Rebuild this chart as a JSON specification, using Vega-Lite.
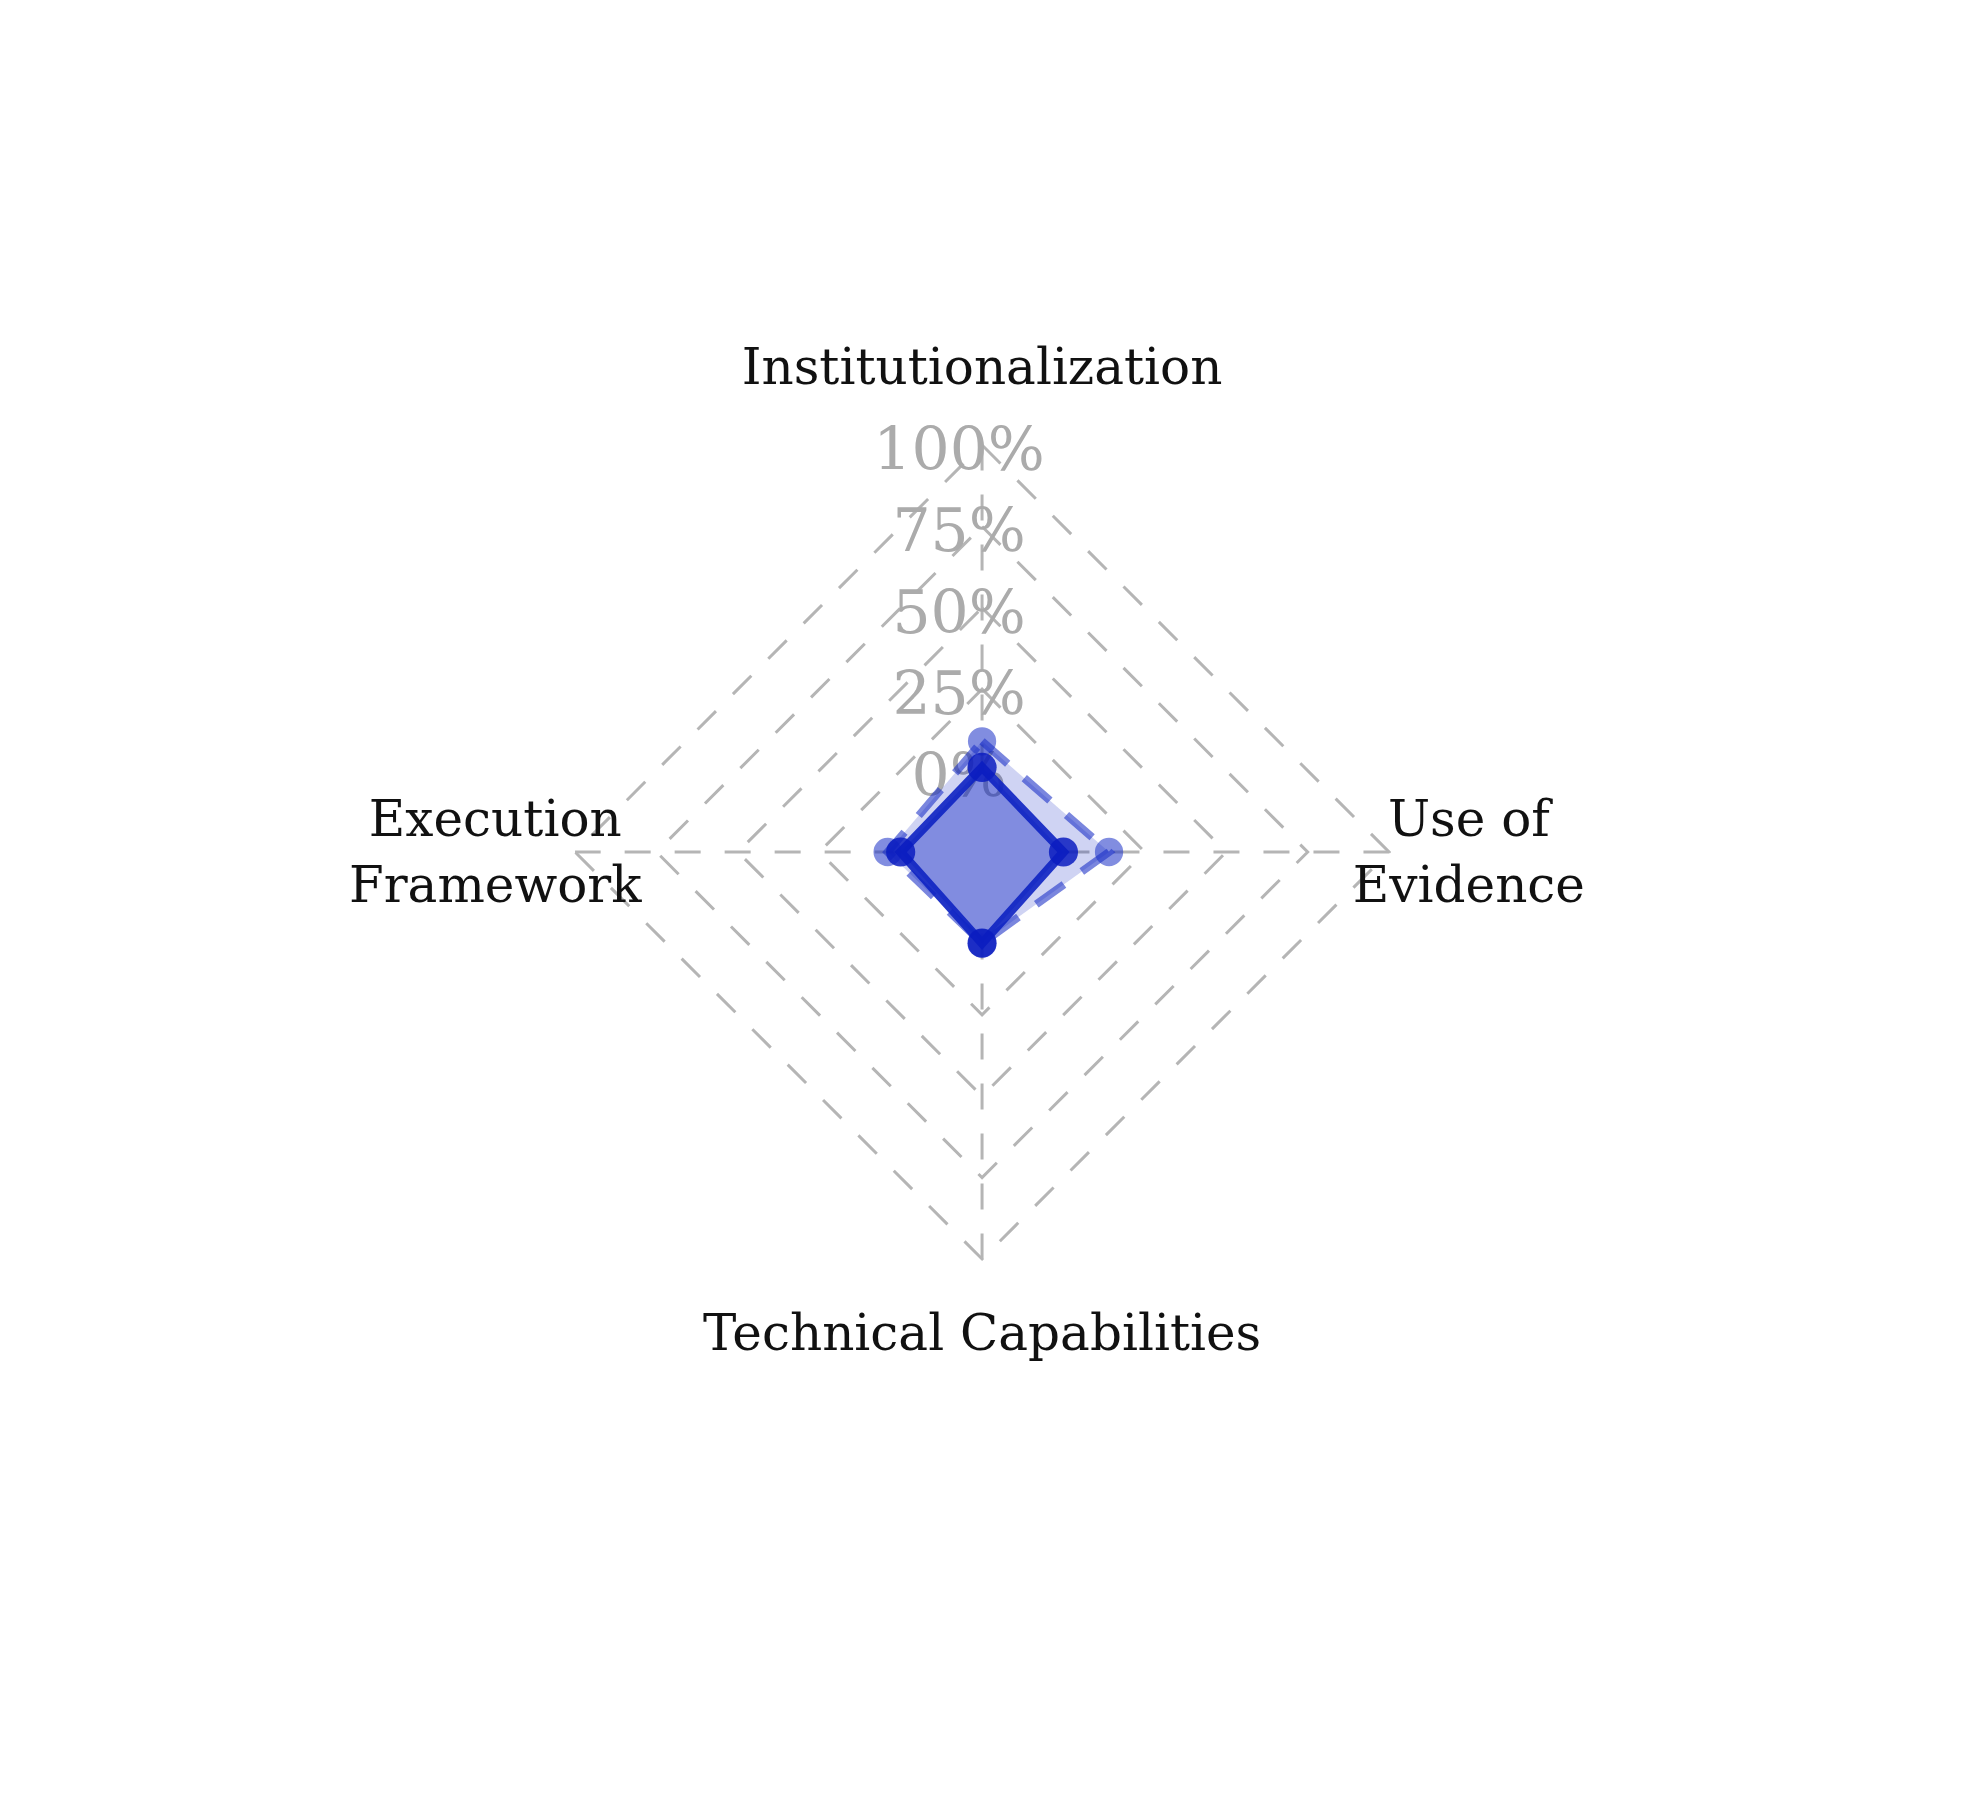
{
  "$schema": "https://vega.github.io/schema/vega-lite/v6.json",
  "width": 1969,
  "height": 1817,
  "autosize": {"type": "none"},
  "padding": 0,
  "background": "white",
  "config": {"view": {"stroke": null}},
  "datasets": {
    "scores": [
      {"axis": "Institutionalization", "series": "Series 1", "value": 1},
      {"axis": "Use of Evidence", "series": "Series 1", "value": 0},
      {"axis": "Technical Capabilities", "series": "Series 1", "value": 3},
      {"axis": "Execution Framework", "series": "Series 1", "value": 0},
      {"axis": "Institutionalization", "series": "Series 2", "value": 9},
      {"axis": "Use of Evidence", "series": "Series 2", "value": 14},
      {"axis": "Technical Capabilities", "series": "Series 2", "value": 3},
      {"axis": "Execution Framework", "series": "Series 2", "value": 4}
    ],
    "grid": [
      {"axis": "Institutionalization", "level": 25},
      {"axis": "Use of Evidence", "level": 25},
      {"axis": "Technical Capabilities", "level": 25},
      {"axis": "Execution Framework", "level": 25},
      {"axis": "Institutionalization", "level": 50},
      {"axis": "Use of Evidence", "level": 50},
      {"axis": "Technical Capabilities", "level": 50},
      {"axis": "Execution Framework", "level": 50},
      {"axis": "Institutionalization", "level": 75},
      {"axis": "Use of Evidence", "level": 75},
      {"axis": "Technical Capabilities", "level": 75},
      {"axis": "Execution Framework", "level": 75},
      {"axis": "Institutionalization", "level": 100},
      {"axis": "Use of Evidence", "level": 100},
      {"axis": "Technical Capabilities", "level": 100},
      {"axis": "Execution Framework", "level": 100}
    ],
    "axes": [
      {"axis": "Institutionalization", "label": ["Institutionalization"]},
      {"axis": "Use of Evidence", "label": ["Use of  ", "Evidence"]},
      {"axis": "Technical Capabilities", "label": ["Technical Capabilities"]},
      {"axis": "Execution Framework", "label": ["Execution  ", "Framework"]}
    ],
    "ticks": [
      {"level": 0, "tick": "0%"},
      {"level": 25, "tick": "25%"},
      {"level": 50, "tick": "50%"},
      {"level": 75, "tick": "75%"},
      {"level": 100, "tick": "100%"}
    ]
  },
  "layer": [
    {
      "data": {"name": "grid"},
      "transform": [
        {"calculate": "indexof(['Institutionalization','Use of Evidence','Technical Capabilities','Execution Framework'], datum.axis)", "as": "idx"},
        {"calculate": "(25 + datum.level) * sin(datum.idx * PI / 2)", "as": "px"},
        {"calculate": "(25 + datum.level) * cos(datum.idx * PI / 2)", "as": "py"}
      ],
      "mark": {"type": "line", "interpolate": "linear-closed", "stroke": "#b5b5b5", "strokeWidth": 3, "strokeDash": [26, 24]},
      "encoding": {
        "x": {"field": "px", "type": "quantitative", "scale": {"domain": [-301.6, 303.1], "nice": false, "zero": false}, "axis": null},
        "y": {"field": "py", "type": "quantitative", "scale": {"domain": [-296.4, 261.7], "nice": false, "zero": false}, "axis": null},
        "detail": {"field": "level", "type": "nominal"},
        "order": {"field": "idx", "type": "quantitative"}
      }
    },
    {
      "data": {"name": "axes"},
      "transform": [
        {"calculate": "indexof(['Institutionalization','Use of Evidence','Technical Capabilities','Execution Framework'], datum.axis)", "as": "idx"},
        {"calculate": "25 * sin(datum.idx * PI / 2)", "as": "px"},
        {"calculate": "25 * cos(datum.idx * PI / 2)", "as": "py"},
        {"calculate": "125 * sin(datum.idx * PI / 2)", "as": "px2"},
        {"calculate": "125 * cos(datum.idx * PI / 2)", "as": "py2"}
      ],
      "mark": {"type": "rule", "stroke": "#b5b5b5", "strokeWidth": 3, "strokeDash": [26, 24]},
      "encoding": {
        "x": {"field": "px", "type": "quantitative"},
        "y": {"field": "py", "type": "quantitative"},
        "x2": {"field": "px2"},
        "y2": {"field": "py2"}
      }
    },
    {
      "data": {"name": "ticks"},
      "transform": [
        {"calculate": "25 + datum.level", "as": "py"}
      ],
      "mark": {"type": "text", "font": "DejaVu Serif", "fontSize": 60, "color": "#ababab", "align": "center", "baseline": "middle", "dx": -23, "dy": 7},
      "encoding": {
        "x": {"datum": 0, "type": "quantitative"},
        "y": {"field": "py", "type": "quantitative"},
        "text": {"field": "tick", "type": "nominal"}
      }
    },
    {
      "data": {"name": "axes"},
      "transform": [
        {"filter": "length(datum.label) == 1"},
        {"calculate": "indexof(['Institutionalization','Use of Evidence','Technical Capabilities','Execution Framework'], datum.axis)", "as": "idx"},
        {"calculate": "148.5 * sin(datum.idx * PI / 2)", "as": "px"},
        {"calculate": "148.5 * cos(datum.idx * PI / 2)", "as": "py"}
      ],
      "mark": {"type": "text", "font": "DejaVu Serif", "fontSize": 50, "color": "#111111", "align": "center", "baseline": "middle"},
      "encoding": {
        "x": {"field": "px", "type": "quantitative"},
        "y": {"field": "py", "type": "quantitative"},
        "text": {"field": "label"}
      }
    },
    {
      "data": {"name": "axes"},
      "transform": [
        {"filter": "length(datum.label) == 2"},
        {"calculate": "indexof(['Institutionalization','Use of Evidence','Technical Capabilities','Execution Framework'], datum.axis)", "as": "idx"},
        {"calculate": "149.5 * sin(datum.idx * PI / 2)", "as": "px"},
        {"calculate": "149.5 * cos(datum.idx * PI / 2)", "as": "py"}
      ],
      "mark": {"type": "text", "font": "DejaVu Serif", "fontSize": 50, "color": "#111111", "align": "center", "baseline": "middle", "lineHeight": 66, "dy": -31},
      "encoding": {
        "x": {"field": "px", "type": "quantitative"},
        "y": {"field": "py", "type": "quantitative"},
        "text": {"field": "label"}
      }
    },
    {
      "data": {"name": "scores"},
      "transform": [
        {"filter": "datum.series === 'Series 2'"},
        {"calculate": "indexof(['Institutionalization','Use of Evidence','Technical Capabilities','Execution Framework'], datum.axis)", "as": "idx"},
        {"calculate": "(25 + datum.value) * sin(datum.idx * PI / 2)", "as": "px"},
        {"calculate": "(25 + datum.value) * cos(datum.idx * PI / 2)", "as": "py"}
      ],
      "layer": [
        {
          "mark": {"type": "line", "interpolate": "linear-closed", "fill": "#0d22c2", "fillOpacity": 0.2, "stroke": "#0d22c2", "strokeOpacity": 0.55, "strokeWidth": 8, "strokeDash": [34, 22]},
          "encoding": {
            "x": {"field": "px", "type": "quantitative"},
            "y": {"field": "py", "type": "quantitative"},
            "order": {"field": "idx", "type": "quantitative"}
          }
        },
        {
          "mark": {"type": "point", "shape": "circle", "filled": true, "size": 800, "color": "#1a2fc6", "opacity": 0.55},
          "encoding": {
            "x": {"field": "px", "type": "quantitative"},
            "y": {"field": "py", "type": "quantitative"}
          }
        }
      ]
    },
    {
      "data": {"name": "scores"},
      "transform": [
        {"filter": "datum.series === 'Series 1'"},
        {"calculate": "indexof(['Institutionalization','Use of Evidence','Technical Capabilities','Execution Framework'], datum.axis)", "as": "idx"},
        {"calculate": "(25 + datum.value) * sin(datum.idx * PI / 2)", "as": "px"},
        {"calculate": "(25 + datum.value) * cos(datum.idx * PI / 2)", "as": "py"}
      ],
      "layer": [
        {
          "mark": {"type": "line", "interpolate": "linear-closed", "fill": "#0d22c2", "fillOpacity": 0.4, "stroke": "#0d22c2", "strokeOpacity": 0.9, "strokeWidth": 9},
          "encoding": {
            "x": {"field": "px", "type": "quantitative"},
            "y": {"field": "py", "type": "quantitative"},
            "order": {"field": "idx", "type": "quantitative"}
          }
        },
        {
          "mark": {"type": "point", "shape": "circle", "filled": true, "size": 850, "color": "#0a1cc0", "opacity": 0.85},
          "encoding": {
            "x": {"field": "px", "type": "quantitative"},
            "y": {"field": "py", "type": "quantitative"}
          }
        }
      ]
    }
  ]
}
